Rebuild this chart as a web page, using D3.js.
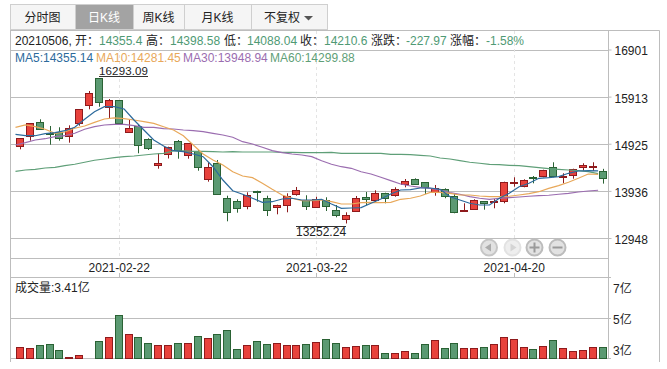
<!DOCTYPE html>
<html>
<head>
<meta charset="utf-8">
<script src="https://cdnjs.cloudflare.com/ajax/libs/d3/7.8.5/d3.min.js"></script>
<style>
  html, body { margin: 0; padding: 0; background: #fff; }
  svg { display: block; }
  text { font-family: "Liberation Sans", "Noto Sans CJK SC", sans-serif; font-size: 12px; fill: #222; }
</style>
</head>
<body>
<svg id="chart" width="667" height="369"></svg>
<script>
// Trading days
const dates = [
    "2021-02-01", "2021-02-02", "2021-02-03", "2021-02-04", "2021-02-05", "2021-02-08", "2021-02-09", "2021-02-10", "2021-02-18", "2021-02-19",
    "2021-02-22", "2021-02-23", "2021-02-24", "2021-02-25", "2021-02-26", "2021-03-01", "2021-03-02", "2021-03-03", "2021-03-04", "2021-03-05",
    "2021-03-08", "2021-03-09", "2021-03-10", "2021-03-11", "2021-03-12", "2021-03-15", "2021-03-16", "2021-03-17", "2021-03-18", "2021-03-19",
    "2021-03-22", "2021-03-23", "2021-03-24", "2021-03-25", "2021-03-26", "2021-03-29", "2021-03-30", "2021-03-31", "2021-04-01", "2021-04-02",
    "2021-04-06", "2021-04-07", "2021-04-08", "2021-04-09", "2021-04-12", "2021-04-13", "2021-04-14", "2021-04-15", "2021-04-16", "2021-04-19",
    "2021-04-20", "2021-04-21", "2021-04-22", "2021-04-23", "2021-04-26", "2021-04-27", "2021-04-28", "2021-04-29", "2021-04-30", "2021-05-06"
];

const open = [
    14871, 15081, 15374, 15150, 15177, 15081, 15353, 15731, 16293, 15689,
    15836, 15177, 15297, 15018, 14479, 14710, 14976, 14682, 14779, 14179,
    14515, 13793, 13718, 13613, 13940, 13793, 13592, 13634, 13871, 13745,
    13605, 13751, 13529, 13340, 13508, 13802, 13751, 13885, 13844, 14074,
    14179, 14116, 13913, 13969, 13829, 13508, 13563, 13718, 13709, 13718,
    14095, 14032, 14221, 14242, 14431, 14221, 14263, 14431, 14443, 14355.4
];
const high = [
    15045, 15353, 15437, 15297, 15270, 15311, 15647, 16031, 16293.09, 15863,
    15836, 15423, 15318, 15039, 14724, 14863, 15003, 14934, 14793, 14536,
    14584, 13835, 13760, 13906, 13940, 13835, 13646, 13885, 14018, 13844,
    13814, 13802, 13640, 13487, 13829, 13913, 13948, 13898, 14011, 14185,
    14200, 14116, 14060, 13990, 13871, 13676, 13760, 13718, 13766, 14129,
    14221, 14179, 14248, 14380, 14536, 14305, 14401, 14515, 14536, 14398.58
];
const low = [
    14808, 14989, 15213, 14905, 14989, 14947, 15303, 15647, 15701, 15458,
    15353, 15156, 14724, 14793, 14401, 14615, 14611, 14611, 14359, 14129,
    13865, 13298, 13479, 13550, 13709, 13409, 13445, 13487, 13835, 13535,
    13592, 13514, 13382, 13252.24, 13508, 13640, 13703, 13676, 13814, 14011,
    14060, 13871, 13835, 13781, 13466, 13500, 13535, 13542, 13571, 13676,
    14024, 14011, 14095, 14221, 14221, 14095, 14192, 14359, 14353, 14088.04
];
const close = [
    15039, 15353, 15240, 15129, 15039, 15261, 15647, 15983, 15794, 15836,
    15353, 15249, 14892, 14842, 14515, 14863, 14793, 14934, 14431, 14431,
    13865, 13487, 13571, 13856, 13919, 13529, 13646, 13823, 13961, 13613,
    13760, 13613, 13424, 13424, 13781, 13772, 13885, 13793, 13982, 14137,
    14087, 14011, 13990, 13823, 13500, 13535, 13739, 13688, 13730, 14116,
    14122, 14158, 14200, 14368, 14242, 14255, 14401, 14473, 14458, 14210.6
];

// 亿
const volume = [
    3.38, 3.33, 3.49, 3.54, 3.23, 2.87, 2.97, 2.82, 3.69, 3.90,
    5.03, 4.05, 3.90, 3.59, 3.49, 3.49, 3.59, 3.59, 3.95, 3.85,
    4.05, 4.26, 3.28, 3.49, 3.69, 3.54, 3.59, 3.49, 3.49, 3.54,
    3.64, 3.79, 3.59, 3.38, 3.43, 3.49, 3.49, 3.07, 3.07, 3.18,
    3.07, 3.54, 3.74, 3.33, 3.59, 3.33, 3.33, 3.38, 3.54, 3.90,
    3.79, 3.38, 3.28, 3.43, 3.74, 3.33, 3.18, 3.23, 3.38, 3.41
];

const ma5 = [
    15123, 15093, 15093, 15135, 15156, 15198, 15269, 15437, 15597, 15701,
    15701, 15653, 15423, 15213, 15003, 14877, 14779, 14758, 14710, 14653,
    14443, 14164, 13940, 13865, 13781, 13697, 13709, 13766, 13781, 13745,
    13745, 13760, 13661, 13571, 13577, 13584, 13676, 13766, 13871, 13955,
    13961, 13997, 13997, 13969, 13814, 13745, 13676, 13640, 13640, 13781,
    13885, 14024, 14095, 14200, 14213, 14234, 14305, 14353, 14359, 14355.14
];
const ma10 = [
    15269, 15318, 15282, 15228, 15144, 15171, 15249, 15297, 15374, 15444,
    15465, 15450, 15423, 15387, 15353, 15282, 15213, 15093, 14898, 14710,
    14584, 14479, 14338, 14248, 14213, 14095, 13969, 13850, 13781, 13730,
    13730, 13745, 13709, 13661, 13661, 13688, 13697, 13688, 13697, 13760,
    13781, 13829, 13906, 13906, 13885, 13850, 13850, 13829, 13814, 13814,
    13823, 13850, 13877, 13919, 13990, 14045, 14116, 14200, 14290, 14281.45
];
const ma30 = [
    14898, 14947, 15003, 15030, 15072, 15093, 15144, 15228, 15282, 15318,
    15332, 15332, 15303, 15269, 15269, 15240, 15234, 15213, 15198, 15177,
    15144, 15108, 15060, 14968, 14919, 14850, 14779, 14737, 14710, 14689,
    14653, 14569, 14494, 14443, 14410, 14338, 14290, 14221, 14150, 14081,
    14039, 14011, 13990, 13955, 13898, 13865, 13814, 13781, 13760, 13781,
    13793, 13808, 13823, 13835, 13844, 13865, 13885, 13913, 13934, 13948.94
];
const ma60 = [
    14347, 14374, 14389, 14416, 14431, 14464, 14494, 14536, 14578, 14605,
    14632, 14653, 14668, 14689, 14710, 14724, 14773, 14773, 14766, 14766,
    14758, 14752, 14758, 14752, 14752, 14752, 14752, 14745, 14745, 14737,
    14737, 14737, 14745, 14724, 14724, 14724, 14724, 14724, 14703, 14703,
    14695, 14682, 14668, 14626, 14605, 14569, 14536, 14515, 14494, 14485,
    14473, 14464, 14443, 14422, 14401, 14389, 14374, 14359, 14338, 14299.88
];

const priceTicks = [16901, 15913, 14925, 13936, 12948];
const volumeTickLabels = ["7亿", "5亿", "3亿"];
const dateTicks = ["2021-02-22", "2021-03-22", "2021-04-20"];
const tabs = ["分时图", "日K线", "周K线", "月K线", "不复权"];

const colors = {
    up: "#e8423c", upLine: "#8e1a1c",
    down: "#5b9a72", downLine: "#2a6234",
    grid: "#bdbdbd", ma5: "#2c6a9c", ma10: "#e8a85a", ma30: "#9b6db0", ma60: "#5f9f78",
    value: "#4f9a74"
};

const svg = d3.select("#chart");

// Scales
const x = d3.scalePoint().domain(dates).range([20, 602.6]);
const yPrice = d3.scaleLinear().domain([12948, 16901]).range([238, 49.5]);
const yVolume = d3.scaleLinear().domain([2.8, 7]).range([358.5, 277.5]);
const maShift = -4.5; // the average lines sit a little left of the candles

// Tabs
const tabEdges = [10, 75, 133, 184, 251, 327];
const tabG = svg.append("g");
tabs.forEach((t, i) => {
    const x0 = tabEdges[i], x1 = tabEdges[i + 1];
    tabG.append("rect")
        .attr("x", x0 + 0.5).attr("y", 4.5)
        .attr("width", x1 - x0).attr("height", 25)
        .attr("fill", i === 1 ? "#a3a3a3" : "#f5f5f5")
        .attr("stroke", "#cfcfcf");
    tabG.append("text")
        .attr("x", (x0 + x1) / 2 - (i === 4 ? 7 : 0)).attr("y", 21.5)
        .attr("text-anchor", "middle")
        .style("fill", i === 1 ? "#fff" : "#222")
        .text(t);
});
tabG.append("path").attr("d", "M304,16 h9 l-4.5,4.5 z").attr("fill", "#555");

// Frame
const frame = svg.append("g").attr("stroke", colors.grid).attr("fill", "none");
frame.append("path").attr("d", "M10.5,30 V362 M10,30.5 H659.5 V362 M608.5,30 V359");
frame.append("path").attr("d", "M10,258.5 H608 M10,277.5 H611 M10,358.5 H611");

// Price gridlines
svg.append("g").selectAll("line")
    .data(priceTicks)
    .join("line")
    .attr("x1", 10).attr("x2", 608)
    .attr("y1", d => Math.round(yPrice(d)) + 0.5)
    .attr("y2", d => Math.round(yPrice(d)) + 0.5)
    .attr("stroke", colors.grid);

// Volume middle gridline
svg.append("line")
    .attr("x1", 10).attr("x2", 611)
    .attr("y1", Math.round(yVolume(4.9)) + 0.5).attr("y2", Math.round(yVolume(4.9)) + 0.5)
    .attr("stroke", colors.grid);

// Date dashed lines
svg.append("g").selectAll("line")
    .data(dateTicks)
    .join("line")
    .attr("x1", d => Math.round(x(d)) + 0.5).attr("x2", d => Math.round(x(d)) + 0.5)
    .attr("y1", 31).attr("y2", 258)
    .attr("stroke", "#e4e4e4")
    .attr("stroke-dasharray", "3,3");

// Price axis
const priceAxis = svg.append("g")
    .attr("transform", "translate(608.5,0)")
    .call(d3.axisRight(yPrice).tickValues(priceTicks).tickSize(3).tickPadding(3).tickFormat(d3.format("d")));
priceAxis.select(".domain").remove();
priceAxis.selectAll("line").attr("stroke", colors.grid);
priceAxis.selectAll("text").style("font-size", "12px").attr("fill", null).attr("dy", "0.45em");

// Date axis
const dateAxis = svg.append("g")
    .attr("transform", "translate(0,258)")
    .call(d3.axisBottom(x).tickValues(dateTicks).tickSize(0).tickPadding(5));
dateAxis.select(".domain").remove();
dateAxis.selectAll("text").style("font-size", "12px").attr("fill", null);
svg.append("g").selectAll("line")
    .data(dateTicks)
    .join("line")
    .attr("x1", d => Math.round(x(d)) + 0.5).attr("x2", d => Math.round(x(d)) + 0.5)
    .attr("y1", 273).attr("y2", 277)
    .attr("stroke", colors.grid);

// Volume axis labels sit inside the band, so no axis call here
svg.append("g").selectAll("text")
    .data(volumeTickLabels)
    .join("text")
    .attr("x", 613)
    .attr("y", (d, i) => 292.5 + i * 31)
    .text(d => d);

// Average lines
const maLine = d3.line()
    .x((d, i) => x(dates[i]) + maShift)
    .y(d => yPrice(d))
    .curve(d3.curveLinear);

const candles = dates.map((date, i) => ({
    date, open: open[i], high: high[i], low: low[i], close: close[i], volume: volume[i],
    up: close[i] >= open[i]
}));

// Volume bars
svg.append("g").selectAll("rect")
    .data(candles)
    .join("rect")
    .attr("x", d => Math.round(x(d.date)) - 3.5)
    .attr("y", d => Math.round(yVolume(d.volume)) + 0.5)
    .attr("width", 7)
    .attr("height", d => 358 - Math.round(yVolume(d.volume)))
    .attr("fill", d => d.up ? colors.up : colors.down)
    .attr("stroke", d => d.up ? colors.upLine : colors.downLine);

// Candle wicks
svg.append("g").selectAll("line")
    .data(candles)
    .join("line")
    .attr("x1", d => Math.round(x(d.date)) + 0.5)
    .attr("x2", d => Math.round(x(d.date)) + 0.5)
    .attr("y1", d => yPrice(d.high))
    .attr("y2", d => yPrice(d.low))
    .attr("stroke", d => d.up ? colors.upLine : colors.downLine);

// Candle bodies
svg.append("g").selectAll("rect")
    .data(candles)
    .join("rect")
    .attr("x", d => Math.round(x(d.date)) - 3.5)
    .attr("y", d => Math.round(yPrice(Math.max(d.open, d.close))) + 0.5)
    .attr("width", 7)
    .attr("height", d => Math.max(1, Math.round(yPrice(Math.min(d.open, d.close))) - Math.round(yPrice(Math.max(d.open, d.close)))))
    .attr("fill", d => d.up ? colors.up : colors.down)
    .attr("stroke", d => d.up ? colors.upLine : colors.downLine);

[[ma60, colors.ma60], [ma30, colors.ma30], [ma10, colors.ma10], [ma5, colors.ma5]].forEach(([values, color]) => {
    svg.append("path")
        .attr("d", maLine(values))
        .attr("fill", "none")
        .attr("stroke", color)
        .attr("stroke-width", 1.2);
});

// High / low callouts
svg.append("text").attr("x", 99).attr("y", 75).style("font-size", "11.5px").attr("textLength", 49).text(d3.max(high).toFixed(2));
svg.append("line").attr("x1", 99).attr("x2", 148).attr("y1", 76.5).attr("y2", 76.5).attr("stroke", "#333");
svg.append("text").attr("x", 296).attr("y", 236).text(d3.min(low).toFixed(2));
svg.append("line").attr("x1", 296).attr("x2", 346).attr("y1", 226.5).attr("y2", 226.5).attr("stroke", "#333");

// Info row
const infoItems = [
    { x: 15, text: "20210506, 开：" },
    { x: 99, text: "14355.4", value: true },
    { x: 146, text: "高：" },
    { x: 170, text: "14398.58", value: true },
    { x: 224, text: "低：" },
    { x: 247, text: "14088.04", value: true },
    { x: 300, text: "收：" },
    { x: 324, text: "14210.6", value: true },
    { x: 371, text: "涨跌：" },
    { x: 406, text: "-227.97", value: true },
    { x: 450, text: "涨幅：" },
    { x: 486, text: "-1.58%", value: true }
];
svg.append("g").selectAll("text")
    .data(infoItems)
    .join("text")
    .attr("x", d => d.x).attr("y", 45)
    .style("fill", d => d.value ? colors.value : "#222")
    .text(d => d.text);

// MA legend
const legendItems = [
    { x: 15, text: "MA5:14355.14", color: colors.ma5 },
    { x: 96, text: "MA10:14281.45", color: colors.ma10 },
    { x: 183, text: "MA30:13948.94", color: colors.ma30 },
    { x: 270, text: "MA60:14299.88", color: colors.ma60 }
];
svg.append("g").selectAll("text")
    .data(legendItems)
    .join("text")
    .attr("x", d => d.x).attr("y", 62)
    .style("fill", d => d.color)
    .text(d => d.text);

svg.append("text").attr("x", 15).attr("y", 292).text("成交量:3.41亿");

// Nav buttons
const navButtons = [
    { x: 489, glyph: "M491,243.5 v8 l-6,-4 z", fill: "#e2e2e2", stroke: "#c6c6c6", mark: "#ababab", solid: true },
    { x: 512.5, glyph: "M510.5,243.5 v8 l6,-4 z", fill: "#eeeeee", stroke: "#e2e2e2", mark: "#d4d4d4", solid: true },
    { x: 534.5, glyph: "M529.5,247.5 h10 M534.5,242.5 v10", fill: "#e2e2e2", stroke: "#bcbcbc", mark: "#9a9a9a", solid: false },
    { x: 557.5, glyph: "M552.5,247.5 h10", fill: "#e2e2e2", stroke: "#bcbcbc", mark: "#9a9a9a", solid: false }
];
navButtons.forEach(b => {
    svg.append("circle")
        .attr("cx", b.x).attr("cy", 247.5).attr("r", 8)
        .attr("fill", b.fill)
        .attr("stroke", b.stroke)
        .attr("stroke-width", 2);
    svg.append("path")
        .attr("d", b.glyph)
        .attr("fill", b.solid ? b.mark : "none")
        .attr("stroke", b.solid ? "none" : b.mark)
        .attr("stroke-width", 2);
});
</script>
</body>
</html>
